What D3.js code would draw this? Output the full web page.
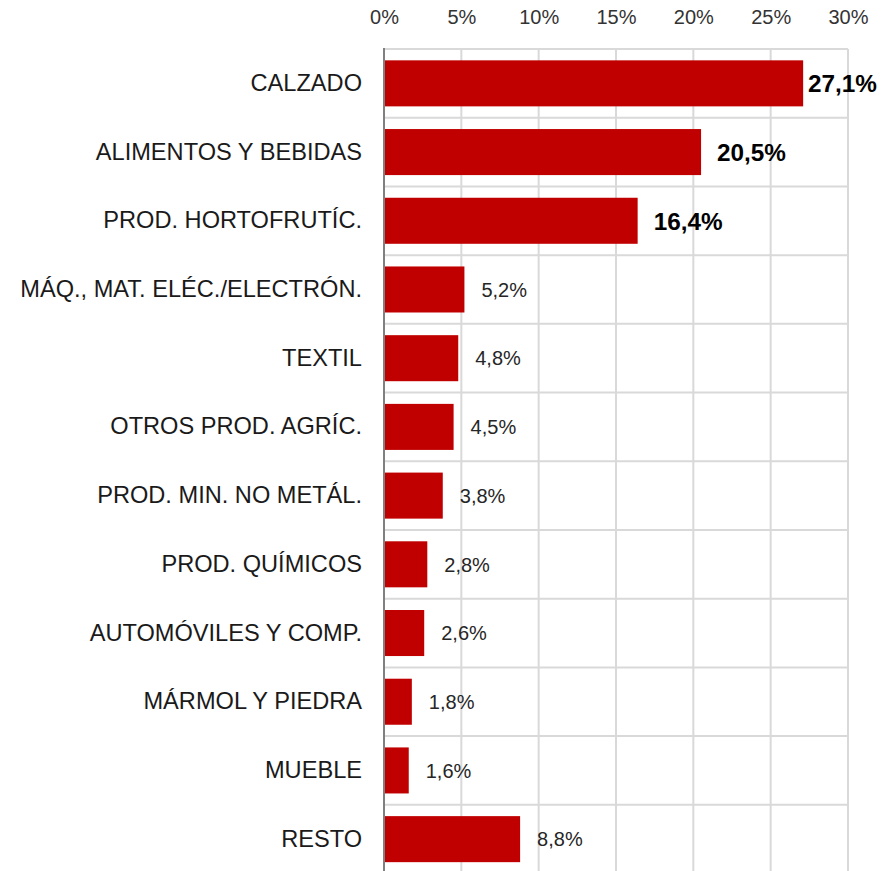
<!DOCTYPE html>
<html>
<head>
<meta charset="utf-8">
<script src="https://cdn.jsdelivr.net/npm/d3@7"></script>
<style>
  body { margin: 0; background: #fff; }
  text { font-family: "Liberation Sans", Arial, sans-serif; }
</style>
</head>
<body>
<div id="chart"></div>
<script>
const categories = [
  "CALZADO", "ALIMENTOS Y BEBIDAS", "PROD. HORTOFRUTÍC.", "MÁQ., MAT. ELÉC./ELECTRÓN.",
  "TEXTIL", "OTROS PROD. AGRÍC.", "PROD. MIN. NO METÁL.", "PROD. QUÍMICOS",
  "AUTOMÓVILES Y COMP.", "MÁRMOL Y PIEDRA", "MUEBLE", "RESTO"
];
const shares = [27.1, 20.5, 16.4, 5.2, 4.8, 4.5, 3.8, 2.8, 2.6, 1.8, 1.6, 8.8];
const highlighted = ["CALZADO", "ALIMENTOS Y BEBIDAS", "PROD. HORTOFRUTÍC."];
const xTicks = [0, 5, 10, 15, 20, 25, 30];

const W = 890, H = 871;
const margin = { top: 49, right: 42, left: 384 };
const width = W - margin.left - margin.right;
const height = 824.5;

const data = categories.map((c, i) => ({ cat: c, value: shares[i] }));

const svg = d3.select("#chart")
  .append("svg")
  .attr("width", W)
  .attr("height", H)
  .append("g")
  .attr("transform", `translate(${margin.left},${margin.top})`);

const x = d3.scaleLinear().domain([0, 30]).range([0, width]);
const y = d3.scaleBand().domain(categories).range([0, height]).paddingInner(0.33).paddingOuter(0.165);

// vertical gridlines
svg.append("g")
  .selectAll("line")
  .data(xTicks)
  .enter().append("line")
  .attr("x1", d => x(d)).attr("x2", d => x(d))
  .attr("y1", 0).attr("y2", height)
  .attr("stroke", "#d9d9d9")
  .attr("stroke-width", 2);

// horizontal separators between categories
const step = y.step();
svg.append("g")
  .selectAll("line")
  .data(d3.range(categories.length + 1))
  .enter().append("line")
  .attr("x1", 0).attr("x2", width)
  .attr("y1", i => i * step).attr("y2", i => i * step)
  .attr("stroke", "#d9d9d9")
  .attr("stroke-width", 2);

// x axis on top
const xAxis = svg.append("g")
  .attr("transform", "translate(0,-22)")
  .call(d3.axisTop(x).tickValues(xTicks).tickSize(0).tickFormat(d => d + "%"));
xAxis.select(".domain").remove();
xAxis.selectAll("text")
  .attr("font-size", 20)
  .attr("fill", "#333")
  .attr("font-family", "Liberation Sans, Arial, sans-serif");

// bars
svg.selectAll(".bar")
  .data(data)
  .enter().append("rect")
  .attr("class", "bar")
  .attr("x", 0)
  .attr("y", d => y(d.cat))
  .attr("width", d => x(d.value))
  .attr("height", y.bandwidth())
  .attr("fill", "#c00000");

// category axis
const yAxis = svg.append("g")
  .call(d3.axisLeft(y).tickSize(0).tickPadding(22));
yAxis.select(".domain").remove();
yAxis.selectAll("text")
  .attr("font-size", 23.6)
  .attr("fill", "#1a1a1a")
  .attr("font-family", "Liberation Sans, Arial, sans-serif");

svg.append("line")
  .attr("x1", 0).attr("x2", 0)
  .attr("y1", -1).attr("y2", height)
  .attr("stroke", "#808080")
  .attr("stroke-width", 2);

// value labels
const fmt = v => d3.format(".1f")(v).replace(".", ",") + "%";
svg.selectAll(".label")
  .data(data)
  .enter().append("text")
  .attr("class", "label")
  .attr("x", d => {
    const big = highlighted.includes(d.cat);
    return Math.min(x(d.value) + (big ? 16 : 17), width - 40);
  })
  .attr("y", d => y(d.cat) + y.bandwidth() / 2)
  .attr("dy", "0.36em")
  .attr("font-size", d => highlighted.includes(d.cat) ? 24.3 : 20)
  .attr("font-weight", d => highlighted.includes(d.cat) ? "bold" : "normal")
  .attr("fill", d => highlighted.includes(d.cat) ? "#000" : "#262626")
  .text(d => fmt(d.value));
</script>
</body>
</html>
